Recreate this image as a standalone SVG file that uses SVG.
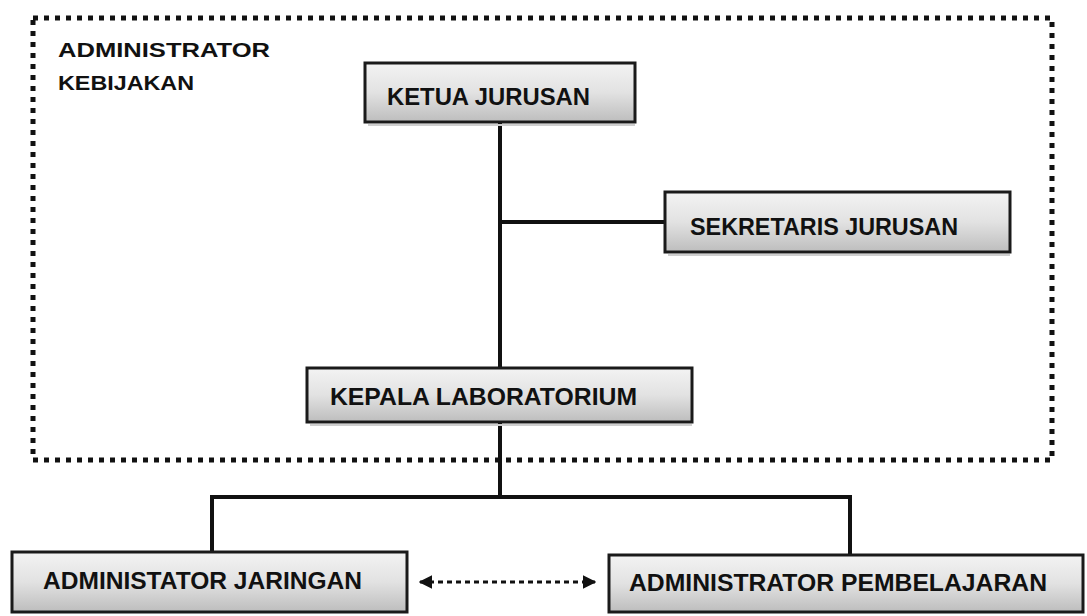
<svg xmlns="http://www.w3.org/2000/svg" width="1087" height="616" viewBox="0 0 1087 616">
<style>
.box{fill:url(#g);stroke:#1a1a1a;stroke-width:3}
.lbl{font-family:"Liberation Sans",Arial,sans-serif;font-weight:bold;font-size:24px;fill:#111}
.hdr{font-family:"Liberation Sans",Arial,sans-serif;font-weight:bold;font-size:21px;fill:#111}
.ln{stroke:#111;stroke-width:4;fill:none}
.shadow{stroke:#cfcfcf;stroke-width:2}
</style>
<defs>
<linearGradient id="g" x1="0" y1="0" x2="0" y2="1">
<stop offset="0" stop-color="#f3f3f3"/>
<stop offset="0.5" stop-color="#e2e2e2"/>
<stop offset="1" stop-color="#bdbdbd"/>
</linearGradient>
<marker id="ah" viewBox="0 0 10 10" refX="9" refY="5" markerWidth="4.5" markerHeight="4.5" orient="auto-start-reverse">
<path d="M0,0 L10,5 L0,10 z" fill="#111"/>
</marker>
</defs>
<rect width="1087" height="616" fill="#ffffff"/>
<g id="boundary">
<rect x="33" y="18" width="1019" height="442" fill="none" stroke="#111" stroke-width="5" stroke-dasharray="5 6"/>
<text class="hdr" x="58" y="57" textLength="212" lengthAdjust="spacingAndGlyphs">ADMINISTRATOR</text>
<text class="hdr" x="58" y="90" textLength="136" lengthAdjust="spacingAndGlyphs">KEBIJAKAN</text>
</g>
<g id="connectors">
<path class="ln" d="M500,122 V368"/>
<path class="ln" d="M500,222 H665"/>
<path class="ln" d="M500,422 V497"/>
<path class="ln" d="M212,552 V497 H850 V555"/>
<path d="M420,582 H595" stroke="#111" stroke-width="3" stroke-dasharray="5 4" fill="none" marker-start="url(#ah)" marker-end="url(#ah)"/>
</g>
<g id="ketua">
<rect class="box" x="365" y="63" width="270" height="59"/>
<line class="shadow" x1="368" y1="125" x2="635" y2="125"/>
<text class="lbl" x="387" y="105" textLength="203" lengthAdjust="spacingAndGlyphs">KETUA JURUSAN</text>
</g>
<g id="sekretaris">
<rect class="box" x="665" y="192" width="345" height="60"/>
<line class="shadow" x1="668" y1="255" x2="1010" y2="255"/>
<text class="lbl" x="690" y="235" textLength="268" lengthAdjust="spacingAndGlyphs">SEKRETARIS JURUSAN</text>
</g>
<g id="kepala">
<rect class="box" x="307" y="368" width="385" height="54"/>
<line class="shadow" x1="310" y1="425" x2="692" y2="425"/>
<text class="lbl" x="330" y="405" textLength="307" lengthAdjust="spacingAndGlyphs">KEPALA LABORATORIUM</text>
</g>
<g id="jaringan">
<rect class="box" x="12" y="552" width="395" height="60"/>
<text class="lbl" x="43" y="589" textLength="319" lengthAdjust="spacingAndGlyphs">ADMINISTATOR JARINGAN</text>
</g>
<g id="pembelajaran">
<rect class="box" x="609" y="555" width="474" height="57"/>
<text class="lbl" x="629" y="591" textLength="418" lengthAdjust="spacingAndGlyphs">ADMINISTRATOR PEMBELAJARAN</text>
</g>
</svg>
